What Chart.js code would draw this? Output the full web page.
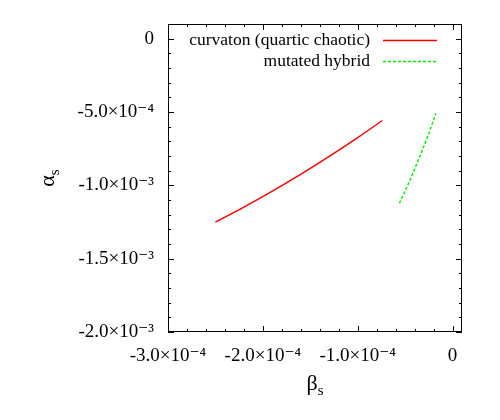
<!DOCTYPE html>
<html>
<head>
<meta charset="utf-8">
<script src="https://cdn.jsdelivr.net/npm/chart.js@4"></script>
<style>
  body { margin: 0; background: #fff; }
</style>
</head>
<body>
<canvas id="runningChart" width="500" height="420"></canvas>
<script>
// curvaton (quartic chaotic)
const curvatonBeta  = [-2.50e-4, -2.20e-4, -1.90e-4, -1.61e-4, -1.30e-4, -1.00e-4, -0.74e-4];
const curvatonAlpha = [-1.251e-3, -1.148e-3, -1.039e-3, -0.928e-3, -0.803e-3, -0.675e-3, -0.558e-3];

// mutated hybrid
const hybridBeta  = [-0.56e-4, -0.46e-4, -0.36e-4, -0.26e-4, -0.175e-4];
const hybridAlpha = [-1.122e-3, -0.982e-3, -0.826e-3, -0.663e-3, -0.510e-3];

const xTickValues = [-3e-4, -2e-4, -1e-4, 0];
const xTickLabels = ['-3.0×10⁻⁴', '-2.0×10⁻⁴', '-1.0×10⁻⁴', '0'];
const yTickValues = [0, -5e-4, -1e-3, -1.5e-3, -2e-3];
const yTickLabels = ['0', '-5.0×10⁻⁴', '-1.0×10⁻³', '-1.5×10⁻³', '-2.0×10⁻³'];

const serif = "'Liberation Serif', 'DejaVu Serif', serif";

const toPoints = (xs, ys) => xs.map((x, i) => ({ x: x, y: ys[i] }));

// inward ticks on all four sides plus the frame
const frameTicks = {
    id: 'frameTicks',
    afterDatasetsDraw(chart) {
        const { ctx, chartArea: a, scales } = chart;
        ctx.save();
        ctx.strokeStyle = '#000';
        ctx.lineWidth = 1;
        ctx.strokeRect(a.left + 0.5, a.top + 0.5, a.right - a.left - 1, a.bottom - a.top - 1);
        ctx.beginPath();
        for (let i = 0; i <= 15; i++) {
            const px = Math.round(scales.x.getPixelForValue(-3e-4 + i * 2e-5)) + 0.5;
            const len = i % 5 === 0 ? 6 : 3;
            ctx.moveTo(px, a.bottom); ctx.lineTo(px, a.bottom - len);
            ctx.moveTo(px, a.top); ctx.lineTo(px, a.top + len);
        }
        for (let i = 0; i <= 20; i++) {
            const py = Math.round(scales.y.getPixelForValue(-2e-3 + i * 1e-4)) + 0.5;
            const len = i % 5 === 0 ? 6 : 3;
            ctx.moveTo(a.left, py); ctx.lineTo(a.left + len, py);
            ctx.moveTo(a.right, py); ctx.lineTo(a.right - len, py);
        }
        ctx.stroke();
        ctx.restore();
    }
};

// gnuplot-style key: label right-aligned, sample line on the right
const keyBox = {
    id: 'keyBox',
    afterDraw(chart) {
        const ctx = chart.ctx;
        ctx.save();
        ctx.font = '17.5px ' + serif;
        ctx.textAlign = 'right';
        ctx.textBaseline = 'middle';
        chart.data.datasets.forEach((ds, i) => {
            const y = 40 + i * 21;
            ctx.fillStyle = '#000';
            ctx.fillText(ds.label, 370, y);
            ctx.strokeStyle = ds.borderColor;
            ctx.lineWidth = ds.borderWidth;
            ctx.setLineDash(ds.borderDash || []);
            ctx.beginPath();
            ctx.moveTo(383, y + 0.5);
            ctx.lineTo(437, y + 0.5);
            ctx.stroke();
        });
        ctx.restore();
    }
};

// axis titles with subscripts
const axisTitles = {
    id: 'axisTitles',
    afterDraw(chart) {
        const { ctx, chartArea: a } = chart;
        ctx.save();
        ctx.fillStyle = '#000';
        ctx.textBaseline = 'alphabetic';
        ctx.textAlign = 'left';

        const drawSub = (main, sub) => {
            ctx.font = '22px ' + serif;
            const w1 = ctx.measureText(main).width;
            ctx.font = '15px ' + serif;
            const w2 = ctx.measureText(sub).width;
            const x0 = -(w1 + w2) / 2;
            ctx.font = '22px ' + serif;
            ctx.fillText(main, x0, 0);
            ctx.font = '15px ' + serif;
            ctx.fillText(sub, x0 + w1, 5);
        };

        ctx.save();
        ctx.translate((a.left + a.right) / 2, 390);
        drawSub('β', 's');
        ctx.restore();

        ctx.save();
        ctx.translate(54, (a.top + a.bottom) / 2);
        ctx.rotate(-Math.PI / 2);
        drawSub('α', 's');
        ctx.restore();

        ctx.restore();
    }
};

new Chart(document.getElementById('runningChart'), {
    type: 'scatter',
    data: {
        datasets: [{
            label: 'curvaton (quartic chaotic)',
            data: toPoints(curvatonBeta, curvatonAlpha),
            showLine: true,
            borderColor: '#ff0000',
            borderWidth: 1.5,
            pointRadius: 0,
            cubicInterpolationMode: 'monotone'
        }, {
            label: 'mutated hybrid',
            data: toPoints(hybridBeta, hybridAlpha),
            showLine: true,
            borderColor: '#00f000',
            borderWidth: 1.5,
            borderDash: [3, 2],
            pointRadius: 0,
            cubicInterpolationMode: 'monotone'
        }]
    },
    options: {
        responsive: false,
        animation: false,
        layout: { padding: { top: 24, right: 38, left: 0, bottom: 0 } },
        plugins: {
            legend: { display: false },
            tooltip: { enabled: false }
        },
        scales: {
            x: {
                type: 'linear',
                min: -3e-4,
                max: 1e-5,
                grid: { display: false },
                border: { display: false },
                afterBuildTicks: s => { s.ticks = xTickValues.map(v => ({ value: v })); },
                afterFit: s => { s.height = 88; },
                ticks: {
                    color: '#000',
                    font: { family: serif, size: 19 },
                    padding: 5,
                    maxRotation: 0,
                    autoSkip: false,
                    callback: v => xTickLabels[xTickValues.indexOf(v)]
                }
            },
            y: {
                type: 'linear',
                min: -2e-3,
                max: 1e-4,
                grid: { display: false },
                border: { display: false },
                afterBuildTicks: s => { s.ticks = yTickValues.map(v => ({ value: v })); },
                afterFit: s => { s.width = 168; },
                ticks: {
                    color: '#000',
                    font: { family: serif, size: 19 },
                    padding: 6,
                    autoSkip: false,
                    callback: v => yTickLabels[yTickValues.indexOf(v)]
                }
            }
        }
    },
    plugins: [frameTicks, keyBox, axisTitles]
});
</script>
</body>
</html>
